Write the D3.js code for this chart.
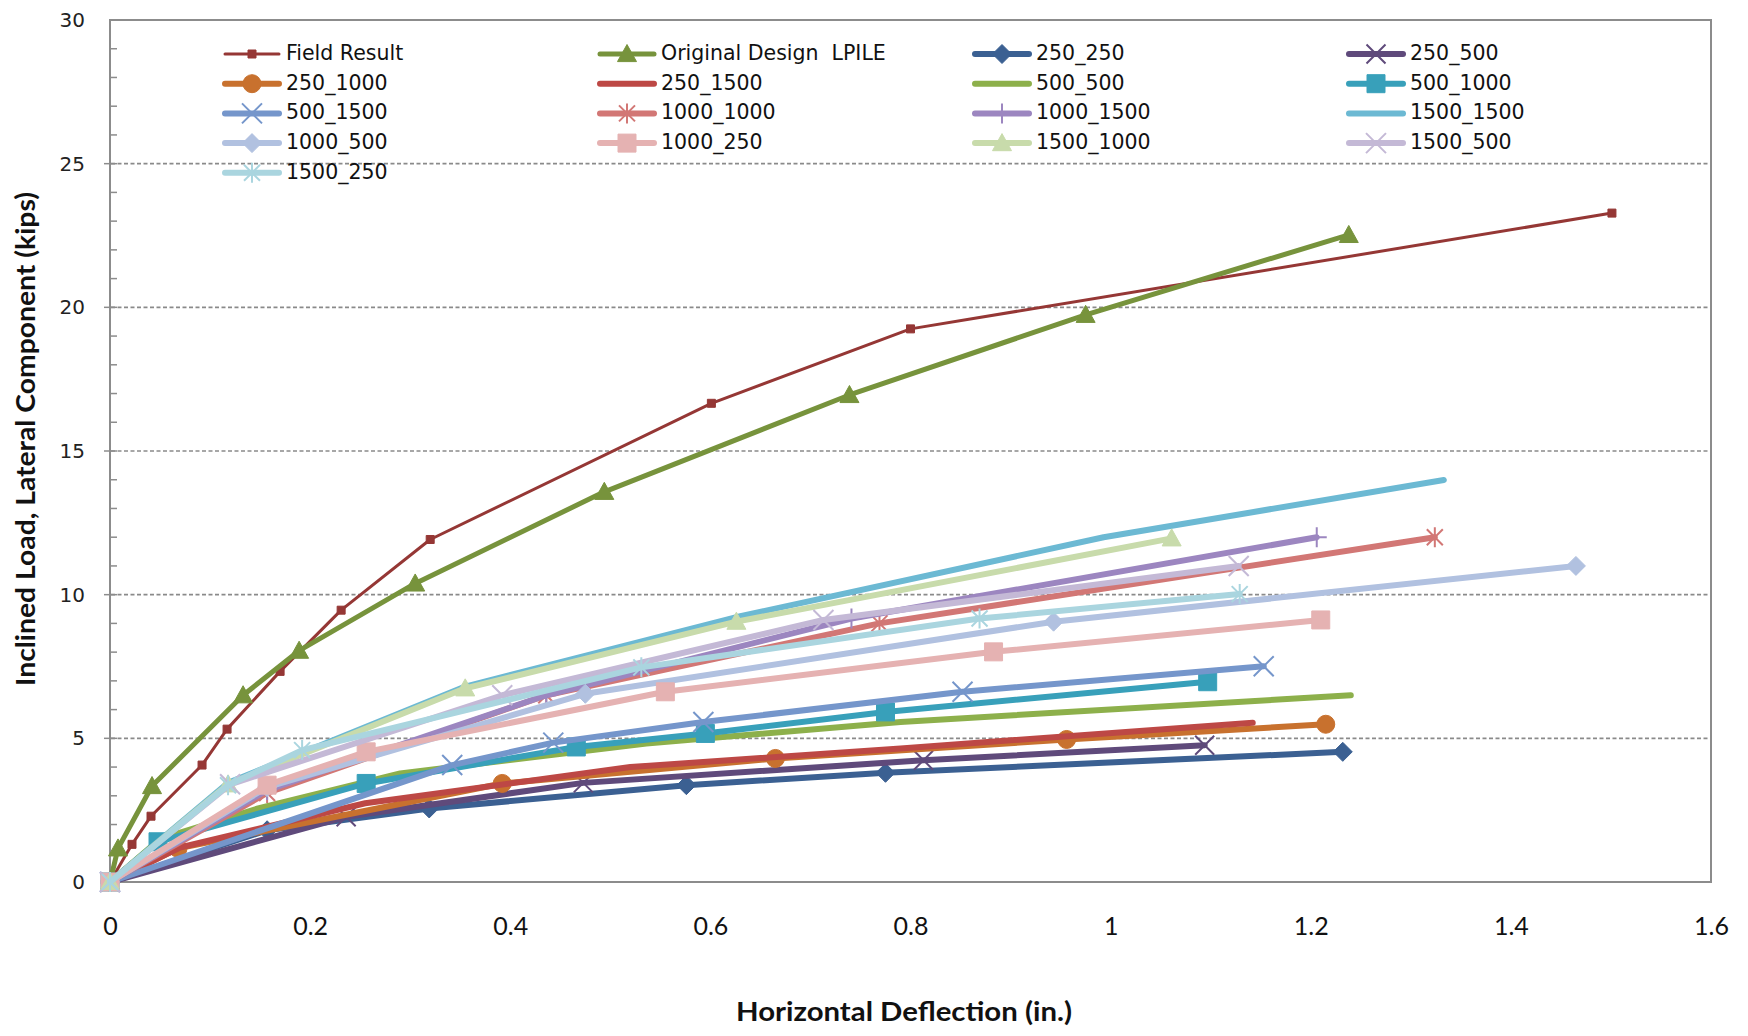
<!DOCTYPE html>
<html><head><meta charset="utf-8">
<script src="https://cdn.jsdelivr.net/npm/d3@7"></script>
<style>
html,body{margin:0;padding:0;background:#fff;}
svg{display:block;}
</style></head><body>
<svg id="chart" width="1748" height="1036"></svg>
<script>
// ---------- data ----------
const xTicks = [0, 0.2, 0.4, 0.6, 0.8, 1, 1.2, 1.4, 1.6];
const yTicks = [0, 5, 10, 15, 20, 25, 30];
const seriesNames = ["Field Result", "Original Design  LPILE", "250_250", "250_500",
  "250_1000", "250_1500", "500_500", "500_1000",
  "500_1500", "1000_1000", "1000_1500", "1500_1500",
  "1000_500", "1000_250", "1500_1000", "1500_500", "1500_250"];

const fieldResultX = [0, 0.022, 0.041, 0.092, 0.117, 0.170, 0.231, 0.320, 0.601, 0.800, 1.501];
const fieldResultY = [0, 1.31, 2.29, 4.07, 5.32, 7.33, 9.46, 11.92, 16.66, 19.25, 23.28];
const lpileX = [0, 0.008, 0.042, 0.133, 0.189, 0.305, 0.494, 0.739, 0.975, 1.238];
const lpileY = [0, 1.17, 3.34, 6.50, 8.05, 10.39, 13.58, 16.95, 19.74, 22.52];
const s250_250X = [0, 0.157, 0.319, 0.576, 0.775, 1.232];
const s250_250Y = [0, 1.80, 2.56, 3.37, 3.80, 4.53];
const s250_500X = [0, 0.236, 0.473, 0.813, 1.094];
const s250_500Y = [0, 2.27, 3.45, 4.24, 4.76];
const s250_1000X = [0, 0.068, 0.392, 0.665, 0.956, 1.215];
const s250_1000Y = [0, 1.17, 3.43, 4.30, 4.96, 5.49];
const s250_1500X = [0, 0.07, 0.255, 0.52, 0.79, 1.142];
const s250_1500Y = [0, 1.2, 2.74, 4.0, 4.65, 5.54];
const s500_500X = [0, 0.05, 0.148, 0.29, 0.536, 0.79, 1.240];
const s500_500Y = [0, 1.5, 2.56, 3.78, 4.82, 5.57, 6.50];
const s500_1000X = [0, 0.048, 0.256, 0.466, 0.595, 0.775, 1.097];
const s500_1000Y = [0, 1.40, 3.43, 4.70, 5.17, 5.92, 6.97];
const s500_1500X = [0, 0.342, 0.443, 0.593, 0.852, 1.153];
const s500_1500Y = [0, 4.07, 4.85, 5.57, 6.62, 7.51];
const s1000_1000X = [0, 0.157, 0.436, 0.769, 1.324];
const s1000_1000Y = [0, 3.1, 6.5, 9.0, 12.0];
const s1000_1500X = [0, 0.157, 0.436, 0.741, 1.206];
const s1000_1500Y = [0, 3.2, 6.5, 9.17, 12.0];
const s1500_1500X = [0, 0.118, 0.355, 0.63, 0.993, 1.333];
const s1500_1500Y = [0, 3.45, 6.8, 9.25, 12.0, 13.99];
const s1000_500X = [0, 0.157, 0.475, 0.943, 1.465];
const s1000_500Y = [0, 3.3, 6.55, 9.06, 11.0];
const s1000_250X = [0, 0.157, 0.256, 0.555, 0.883, 1.210];
const s1000_250Y = [0, 3.37, 4.53, 6.62, 8.01, 9.12];
const s1500_1000X = [0, 0.118, 0.355, 0.626, 1.061];
const s1500_1000Y = [0, 3.4, 6.74, 9.06, 11.96];
const s1500_500X = [0, 0.12, 0.392, 0.713, 1.128];
const s1500_500Y = [0, 3.4, 6.5, 9.12, 11.0];
const s1500_250X = [0, 0.118, 0.192, 0.531, 0.869, 1.129];
const s1500_250Y = [0, 3.37, 4.59, 7.47, 9.17, 10.02];

const seriesX = [fieldResultX, lpileX, s250_250X, s250_500X, s250_1000X, s250_1500X, s500_500X, s500_1000X,
  s500_1500X, s1000_1000X, s1000_1500X, s1500_1500X, s1000_500X, s1000_250X, s1500_1000X, s1500_500X, s1500_250X];
const seriesY = [fieldResultY, lpileY, s250_250Y, s250_500Y, s250_1000Y, s250_1500Y, s500_500Y, s500_1000Y,
  s500_1500Y, s1000_1000Y, s1000_1500Y, s1500_1500Y, s1000_500Y, s1000_250Y, s1500_1000Y, s1500_500Y, s1500_250Y];

// ---------- styles ----------
const styles = [
  {color:'#953735', width:3, marker:'square', size:8},
  {color:'#77933C', width:5, marker:'triangle', size:19},
  {color:'#3B6092', width:6, marker:'diamond', size:19},
  {color:'#5F4A7B', width:6, marker:'x', size:19},
  {color:'#C8712E', width:6, marker:'circle', size:18},
  {color:'#BD4845', width:6, marker:null},
  {color:'#8DB04B', width:6, marker:null},
  {color:'#38A0BA', width:6, marker:'square', size:18},
  {color:'#7596CB', width:6, marker:'x', size:20},
  {color:'#D27775', width:6, marker:'star', size:20},
  {color:'#9C86C0', width:6, marker:'plus', size:20},
  {color:'#6CB9D3', width:6, marker:null},
  {color:'#B1C1E0', width:6, marker:'diamond', size:19},
  {color:'#E5B2B2', width:6, marker:'square', size:18},
  {color:'#C8DBAB', width:6, marker:'triangle', size:19},
  {color:'#C4B9D6', width:6, marker:'x', size:20},
  {color:'#AAD5DF', width:6, marker:'star', size:20}
];

const svg = d3.select('#chart');
const x = d3.scaleLinear().domain([0, 1.6]).range([110, 1711]);
const y = d3.scaleLinear().domain([0, 30]).range([882, 20]);

function markerPath(type, s) {
  const h = s / 2;
  switch (type) {
    case 'square': return `M${-h},${-h}H${h}V${h}H${-h}Z`;
    case 'diamond': return `M0,${-h}L${h},0L0,${h}L${-h},0Z`;
    case 'triangle': return `M0,${-h}L${h},${h*0.8}L${-h},${h*0.8}Z`;
    case 'circle': return d3.symbol(d3.symbolCircle, Math.PI * h * h)();
    case 'x': return `M${-h},${-h}L${h},${h}M${h},${-h}L${-h},${h}`;
    case 'star': return `M${-h*0.8},${-h*0.8}L${h*0.8},${h*0.8}M${h*0.8},${-h*0.8}L${-h*0.8},${h*0.8}M0,${-h}L0,${h}`;
    case 'plus': return `M0,${-h}L0,${h}M${-h},0L${h},0`;
  }
  return '';
}
const strokeMarkers = new Set(['x', 'star', 'plus']);
function drawMarker(g, st, cx, cy) {
  if (!st.marker) return;
  const p = g.append('path').attr('d', markerPath(st.marker, st.size))
    .attr('transform', `translate(${cx},${cy})`);
  if (strokeMarkers.has(st.marker)) {
    p.attr('fill', 'none').attr('stroke', st.color).attr('stroke-width', 2);
  } else {
    p.attr('fill', st.color).attr('stroke', st.color).attr('stroke-width', 1);
  }
}

// ---------- frame & grid ----------
const grid = svg.append('g');
grid.selectAll('line').data(yTicks.filter(v => v > 0 && v < 30)).enter().append('line')
  .attr('x1', x(0) + 1).attr('x2', x(1.6) - 1)
  .attr('y1', d => y(d)).attr('y2', d => y(d))
  .attr('stroke', '#8a8a8a').attr('stroke-width', 1.6).attr('stroke-dasharray', '4,2.5');

svg.append('rect').attr('x', x(0)).attr('y', y(30))
  .attr('width', x(1.6) - x(0)).attr('height', y(0) - y(30))
  .attr('fill', 'none').attr('stroke', '#8c8c8c').attr('stroke-width', 2);

// minor ticks on y axis
const minor = d3.range(1, 30);
svg.append('g').selectAll('line').data(minor).enter().append('line')
  .attr('x1', d => d % 5 === 0 ? x(0) - 6 : x(0)).attr('x2', x(0) + 7)
  .attr('y1', d => y(d)).attr('y2', d => y(d))
  .attr('stroke', '#8c8c8c').attr('stroke-width', 1.5);

// axes (labels)
const yAxis = svg.append('g').attr('transform', `translate(${x(0)},0)`)
  .call(d3.axisLeft(y).tickValues(yTicks).tickSize(0).tickPadding(25).tickFormat(d3.format('d')));
yAxis.select('.domain').remove();
yAxis.selectAll('text').attr('font-family', 'DejaVu Sans, Verdana, sans-serif')
  .attr('font-size', 20).attr('fill', '#222');

const xAxis = svg.append('g').attr('transform', `translate(0,${y(0)})`)
  .call(d3.axisBottom(x).tickValues(xTicks).tickSize(0).tickFormat(d => String(d)));
xAxis.select('.domain').remove();
xAxis.selectAll('text').attr('y', 44).attr('dy', '0.35em')
  .attr('font-family', '"Liberation Sans Narrow", "Arial Narrow", Lato, sans-serif')
  .attr('font-size', 25).attr('fill', '#111');

// titles
svg.append('text').attr('x', 904).attr('y', 1014).attr('text-anchor', 'middle')
  .attr('dominant-baseline', 'middle')
  .attr('font-family', '"Liberation Sans Narrow", "Arial Narrow", Lato, sans-serif')
  .attr('font-weight', 'bold').attr('font-size', 26).attr('fill', '#111')
  .attr('textLength', 336).attr('lengthAdjust', 'spacingAndGlyphs')
  .text('Horizontal Deflection (in.)');
svg.append('text').attr('transform', 'translate(28,439) rotate(-90)').attr('text-anchor', 'middle')
  .attr('dominant-baseline', 'middle')
  .attr('font-family', '"Liberation Sans Narrow", "Arial Narrow", Lato, sans-serif')
  .attr('font-weight', 'bold').attr('font-size', 26).attr('fill', '#111')
  .attr('textLength', 494).attr('lengthAdjust', 'spacingAndGlyphs')
  .text('Inclined Load, Lateral Component (kips)');

// ---------- series ----------
const line = d3.line().x(d => x(d[0])).y(d => y(d[1]));
const plot = svg.append('g');
seriesNames.forEach((name, i) => {
  const st = styles[i];
  const pts = seriesX[i].map((v, j) => [v, seriesY[i][j]]);
  const g = plot.append('g');
  g.append('path').datum(pts).attr('d', line).attr('fill', 'none')
    .attr('stroke', st.color).attr('stroke-width', st.width)
    .attr('stroke-linejoin', 'round').attr('stroke-linecap', 'round');
  pts.forEach(p => drawMarker(g, st, x(p[0]), y(p[1])));
});

// ---------- legend ----------
const legCols = [225, 600, 975, 1349];
const legRow0 = 54, legRowH = 29.7;
const leg = svg.append('g');
seriesNames.forEach((name, i) => {
  const st = styles[i];
  const cx = legCols[i % 4], cy = legRow0 + Math.floor(i / 4) * legRowH;
  const g = leg.append('g');
  g.append('line').attr('x1', cx).attr('x2', cx + 54).attr('y1', cy).attr('y2', cy)
    .attr('stroke', st.color).attr('stroke-width', st.width).attr('stroke-linecap', 'round');
  drawMarker(g, st, cx + 27, cy);
  g.append('text').attr('x', cx + 61).attr('y', cy).attr('dominant-baseline', 'middle')
    .attr('font-family', 'DejaVu Sans, Verdana, sans-serif').attr('font-size', 20.5)
    .attr('fill', '#111').style('white-space', 'pre').text(name);
});
</script>
</body></html>
